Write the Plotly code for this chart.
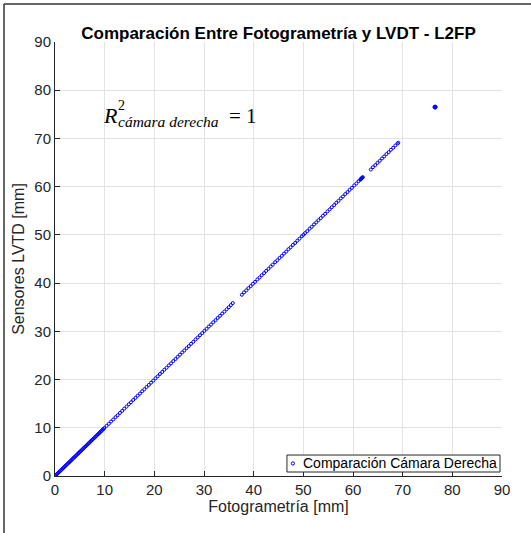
import plotly.graph_objects as go

# Desplazamientos medidos (mm): fotogrametría (cámara derecha) vs. sensores LVDT
foto_tramo1 = [0.00, 0.14, 0.29, 0.47, 0.61, 0.78, 0.96, 1.12, 1.31, 1.47, 1.64, 1.83, 2.00, 2.18, 2.35,
               2.53, 2.70, 2.88, 3.05, 3.23, 3.41, 3.58, 3.76, 3.93, 4.11, 4.29, 4.46, 4.64, 4.81, 4.99,
               5.17, 5.34, 5.52, 5.70, 5.87, 6.05, 6.22, 6.40, 6.58, 6.75, 6.93, 7.11, 7.28, 7.46, 7.63,
               7.81, 7.99, 8.16, 8.34, 8.52, 8.69, 8.87, 9.04, 9.22, 9.40, 9.57, 9.75, 9.93]
lvdt_tramo1 = [0.00, 0.13, 0.30, 0.46, 0.62, 0.79, 0.95, 1.13, 1.30, 1.48, 1.65, 1.82, 2.01, 2.17, 2.36,
               2.52, 2.71, 2.87, 3.06, 3.22, 3.40, 3.59, 3.75, 3.94, 4.10, 4.30, 4.45, 4.65, 4.80, 5.00,
               5.16, 5.35, 5.51, 5.71, 5.86, 6.06, 6.21, 6.41, 6.57, 6.76, 6.92, 7.12, 7.27, 7.47, 7.62,
               7.82, 7.98, 8.17, 8.33, 8.53, 8.68, 8.88, 9.03, 9.23, 9.39, 9.58, 9.74, 9.94]

foto_tramo2 = [10.38, 10.84, 11.27, 11.73, 12.18, 12.61, 13.07, 13.52, 13.95, 14.41, 14.86, 15.30, 15.75,
               16.21, 16.64, 17.10, 17.55, 17.98, 18.44, 18.89, 19.33, 19.78, 20.24, 20.67, 21.13, 21.58,
               22.01, 22.47, 22.92, 23.36, 23.81, 24.27, 24.70, 25.16, 25.61, 26.04, 26.50, 26.95, 27.39,
               27.84, 28.30, 28.73, 29.19, 29.64, 30.07, 30.53, 30.98, 31.42, 31.87, 32.33, 32.76, 33.22,
               33.67, 34.10, 34.56, 35.01, 35.42, 35.80]
lvdt_tramo2 = [10.40, 10.83, 11.29, 11.72, 12.20, 12.60, 13.09, 13.51, 13.97, 14.40, 14.88, 15.29, 15.77,
               16.20, 16.66, 17.09, 17.57, 17.97, 18.46, 18.88, 19.35, 19.77, 20.26, 20.66, 21.15, 21.57,
               22.03, 22.46, 22.94, 23.35, 23.83, 24.26, 24.72, 25.15, 25.63, 26.03, 26.52, 26.94, 27.41,
               27.83, 28.32, 28.72, 29.21, 29.63, 30.09, 30.52, 31.00, 31.41, 31.89, 32.32, 32.78, 33.21,
               33.69, 34.09, 34.58, 35.00, 35.45, 35.86]

foto_tramo3 = [37.62, 38.05, 38.51, 38.93, 39.40, 39.84, 40.27, 40.75, 41.18, 41.62, 42.09, 42.51, 42.98,
               43.42, 43.85, 44.33, 44.76, 45.20, 45.67, 46.10, 46.55, 47.01, 47.44, 47.90, 48.35, 48.79,
               49.24, 49.70, 50.02]
lvdt_tramo3 = [37.58, 38.07, 38.49, 38.95, 39.38, 39.86, 40.25, 40.77, 41.16, 41.64, 42.07, 42.53, 42.96,
               43.44, 43.83, 44.35, 44.74, 45.22, 45.65, 46.12, 46.53, 47.03, 47.42, 47.92, 48.33, 48.81,
               49.22, 49.72, 50.00]

foto_tramo4 = [50.35, 50.80, 51.26, 51.69, 52.15, 52.60, 53.03, 53.50, 53.94, 54.38, 54.85, 55.29, 55.72,
               56.20, 56.63, 57.08, 57.55, 57.97, 58.43, 58.90, 59.32, 59.78, 60.25, 60.68, 61.12, 61.45,
               61.58, 61.66, 61.74, 61.81, 61.90, 61.97]
lvdt_tramo4 = [50.37, 50.78, 51.28, 51.67, 52.17, 52.58, 53.05, 53.48, 53.96, 54.36, 54.87, 55.27, 55.74,
               56.18, 56.65, 57.06, 57.57, 57.95, 58.45, 58.88, 59.34, 59.76, 60.27, 60.66, 61.14, 61.43,
               61.60, 61.64, 61.76, 61.79, 61.92, 61.95]

foto_tramo5 = [63.58, 64.02, 64.49, 64.93, 65.38, 65.84, 66.27, 66.73, 67.18, 67.62, 68.09, 68.52, 68.97, 69.12]
lvdt_tramo5 = [63.55, 64.04, 64.47, 64.95, 65.36, 65.86, 66.25, 66.75, 67.16, 67.64, 68.07, 68.54, 68.95, 69.10]

foto_final = [76.45, 76.60, 76.55, 76.42, 76.62]
lvdt_final = [76.45, 76.60, 76.40, 76.56, 76.50]

ticks = [0, 10, 20, 30, 40, 50, 60, 70, 80, 90]
serie_nombre = "Comparación Cámara Derecha"

foto = foto_tramo1 + foto_tramo2 + foto_tramo3 + foto_tramo4 + foto_tramo5 + foto_final
lvdt = lvdt_tramo1 + lvdt_tramo2 + lvdt_tramo3 + lvdt_tramo4 + lvdt_tramo5 + lvdt_final
n = min(len(foto), len(lvdt))
foto, lvdt = foto[:n], lvdt[:n]

SANS = "Liberation Sans, Arial, Helvetica, sans-serif"
SERIF = "Liberation Serif, Times New Roman, serif"
INK = "#262626"
GRID = "#e3e3e3"
BLUE = "#0000ff"

fig = go.Figure()
fig.add_trace(go.Scatter(
    x=foto, y=lvdt, mode="markers", name=serie_nombre, showlegend=False,
    marker=dict(symbol="circle-open", size=3, color=BLUE, line=dict(width=1, color=BLUE)),
))

axis_common = dict(
    range=[0, 90], tickvals=ticks, ticktext=[str(t) for t in ticks],
    showgrid=True, gridcolor=GRID, gridwidth=1,
    zeroline=False, showline=True, linecolor=INK, linewidth=1,
    ticks="inside", ticklen=5, tickcolor=INK, tickwidth=1,
    tickfont=dict(family=SANS, size=15, color=INK),
    mirror=False, fixedrange=True,
)

fig.update_layout(
    width=531, height=533,
    margin=dict(l=55, r=29, t=42, b=57),
    paper_bgcolor="white", plot_bgcolor="white",
    title=dict(
        text="<b>Comparación Entre Fotogrametría y LVDT - L2FP</b>",
        x=0.5, xref="paper", xanchor="center",
        y=1 - 33 / 533, yref="container", yanchor="middle",
        font=dict(family=SANS, size=17, color="black"),
    ),
    xaxis=dict(axis_common, title=dict(text="Fotogrametría [mm]", standoff=3,
                                       font=dict(family=SANS, size=16, color=INK))),
    yaxis=dict(axis_common, title=dict(text="Sensores LVTD [mm]", standoff=5,
                                       font=dict(family=SANS, size=16, color=INK))),
    showlegend=False,
)

# Leyenda: recuadro, símbolo y texto en la esquina inferior derecha
fig.add_shape(type="rect", xref="x", yref="y", x0=46.7, x1=89.6, y0=0.83, y1=4.35,
              fillcolor="white", line=dict(color=INK, width=1), layer="above")
fig.add_shape(type="circle", xref="x", yref="y", xsizemode="pixel", ysizemode="pixel",
              xanchor=47.9, yanchor=2.6, x0=-1.6, x1=1.6, y0=-1.6, y1=1.6,
              line=dict(color=BLUE, width=1), layer="above")
fig.add_annotation(text=serie_nombre, x=49.6, y=2.6, xref="x", yref="y",
                   xanchor="left", yanchor="middle", showarrow=False,
                   font=dict(family=SANS, size=14, color="black"))

# Coeficiente de determinación, compuesto con sub/superíndice apilados
ann = [
    dict(text="<i>R</i>", x=9.30, y=74.66, size=22),
    dict(text="2", x=12.35, y=76.75, size=14),
    dict(text="<i>cámara derecha</i>", x=12.35, y=73.45, size=15.5),
    dict(text="= 1", x=34.6, y=74.66, size=21),
]
for a in ann:
    fig.add_annotation(
        text=a["text"], x=a["x"], y=a["y"], xref="x", yref="y",
        xanchor="left", yanchor="middle", showarrow=False,
        font=dict(family=SERIF, size=a["size"], color="black"),
    )

# Marco exterior de la figura
fig.add_shape(type="line", xref="paper", yref="paper",
              x0=-0.1141, x1=-0.1141, y0=1.0876, y1=-0.14,
              line=dict(color="#333333", width=1.5))
fig.add_shape(type="line", xref="paper", yref="paper",
              x0=-0.1141, x1=1.07, y0=1.0876, y1=1.0876,
              line=dict(color="#333333", width=1.5))

fig.write_html("out.html")
